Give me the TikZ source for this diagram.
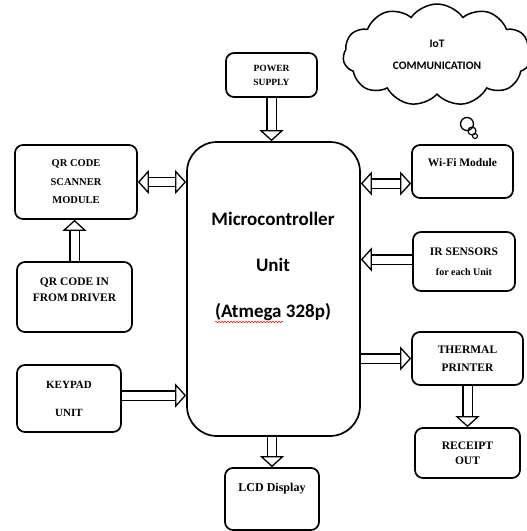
\documentclass[tikz,border=0pt]{standalone}
\usepackage{fontspec}
\setmainfont{Liberation Serif}
\newfontfamily\calfont{Carlito}
\usetikzlibrary{arrows.meta,shapes.symbols,decorations.pathmorphing,calc}
\begin{document}
\begin{tikzpicture}[x=1pt,y=-1pt,
  box/.style={draw, line width=1.7pt, rounded corners=8pt, align=center, inner sep=0pt,
    font=\bfseries\fontsize{11}{18}\selectfont},
  txt/.style={align=center, inner sep=0pt, font=\bfseries\fontsize{11}{16}\selectfont},
  tipA/.tip={Triangle[open, length=11pt, width=24pt, line width=1.3pt]},
  barrow/.style={line width=1.3pt, double=white, double distance=8pt, -tipA},
  dbarrow/.style={line width=1.3pt, double=white, double distance=8pt, tipA-tipA},
]
\useasboundingbox (0,0) rectangle (527,531);

% cloud
\node[cloud, draw, line width=1.5pt, cloud puffs=11, cloud puff arc=110, aspect=2.2,
  minimum width=188pt, minimum height=102pt, inner sep=0pt,
  font=\calfont\bfseries\fontsize{11.5}{22}\selectfont, align=center] (cloud) at (437,55) {IoT\\COMMUNICATION};
\node[circle, draw, line width=1.3pt, minimum size=13pt, inner sep=0pt] (b1) at (467,124) {};
\node[circle, draw, line width=1.2pt, minimum size=8pt, inner sep=0pt] (b2) at (472,131) {};
\node[circle, draw, line width=1.1pt, minimum size=5pt, inner sep=0pt] (b3) at (475,136) {};

% boxes
\node[box, minimum width=91pt, minimum height=44pt, font=\bfseries\fontsize{9.5}{14}\selectfont] (power) at (271.5,75) {POWER\\SUPPLY};
\node[box, rounded corners=30pt, minimum width=173pt, minimum height=294pt] (mcu) at (273.5,289) {};
\node[align=center, inner sep=0pt, font=\calfont\bfseries\fontsize{19}{46}\selectfont] (mcutext) at (273,266) {Microcontroller\\Unit\\(Atmega 328p)};
\coordinate (sq1) at (215,322);
\coordinate (sq2) at (283,322);
\draw[red, line width=0.5pt, decorate, decoration={snake, amplitude=0.8pt, segment length=3pt}] (sq1) -- (sq2);

\node[box, minimum width=122pt, minimum height=74pt, font=\bfseries\fontsize{10.5}{18.5}\selectfont] (qrs) at (76,182) {QR CODE\\SCANNER\\MODULE};
\node[box, minimum width=115pt, minimum height=70pt] (qrin) at (74.5,297) {};
\node[txt, font=\bfseries\fontsize{11.5}{16}\selectfont] (qrintext) at (74.5,290) {QR CODE IN\\FROM DRIVER};
\node[box, minimum width=104pt, minimum height=67pt, font=\bfseries\fontsize{11}{28}\selectfont] (keypad) at (69,398.5) {KEYPAD\\UNIT};
\node[box, minimum width=94pt, minimum height=62pt] (lcd) at (272,499) {};
\node[txt, font=\bfseries\fontsize{12}{16}\selectfont] (lcdtext) at (272,489) {LCD Display};
\node[box, minimum width=101pt, minimum height=53pt] (wifi) at (462.5,171.5) {};
\node[txt, font=\bfseries\fontsize{11.5}{16}\selectfont] (wifitext) at (462.5,163) {Wi-Fi Module};
\node[box, minimum width=102pt, minimum height=59pt, font=\bfseries\fontsize{11.5}{20}\selectfont] (ir) at (464,261.5) {IR SENSORS\\{\fontsize{10}{20}\selectfont for each Unit}};
\node[box, minimum width=111pt, minimum height=53pt, font=\bfseries\fontsize{11.5}{18}\selectfont] (thermal) at (467.5,358.5) {THERMAL\\PRINTER};
\node[box, minimum width=105pt, minimum height=50pt, font=\bfseries\fontsize{11.5}{15}\selectfont] (receipt) at (467.5,453) {RECEIPT\\OUT};

% arrows
\draw[barrow] (power.south) -- (power.south |- mcu.north);
\draw[dbarrow] (qrs.east) -- (qrs.east -| mcu.west);
\draw[barrow] (qrin.north) -- (qrin.north |- qrs.south);
\draw[barrow] ([yshift=3pt]keypad.east) -- ([yshift=3pt]keypad.east -| mcu.west);
\draw[barrow] (lcd.north |- mcu.south) -- (lcd.north);
\draw[dbarrow] ([yshift=-12pt]wifi.west) -- ([yshift=-12pt]wifi.west -| mcu.east);
\draw[barrow] ([yshift=2pt]ir.west) -- ([yshift=2pt]ir.west -| mcu.east);
\draw[barrow] (thermal.west -| mcu.east) -- (thermal.west);
\draw[barrow] (thermal.south) -- (thermal.south |- receipt.north);
\end{tikzpicture}
\end{document}
